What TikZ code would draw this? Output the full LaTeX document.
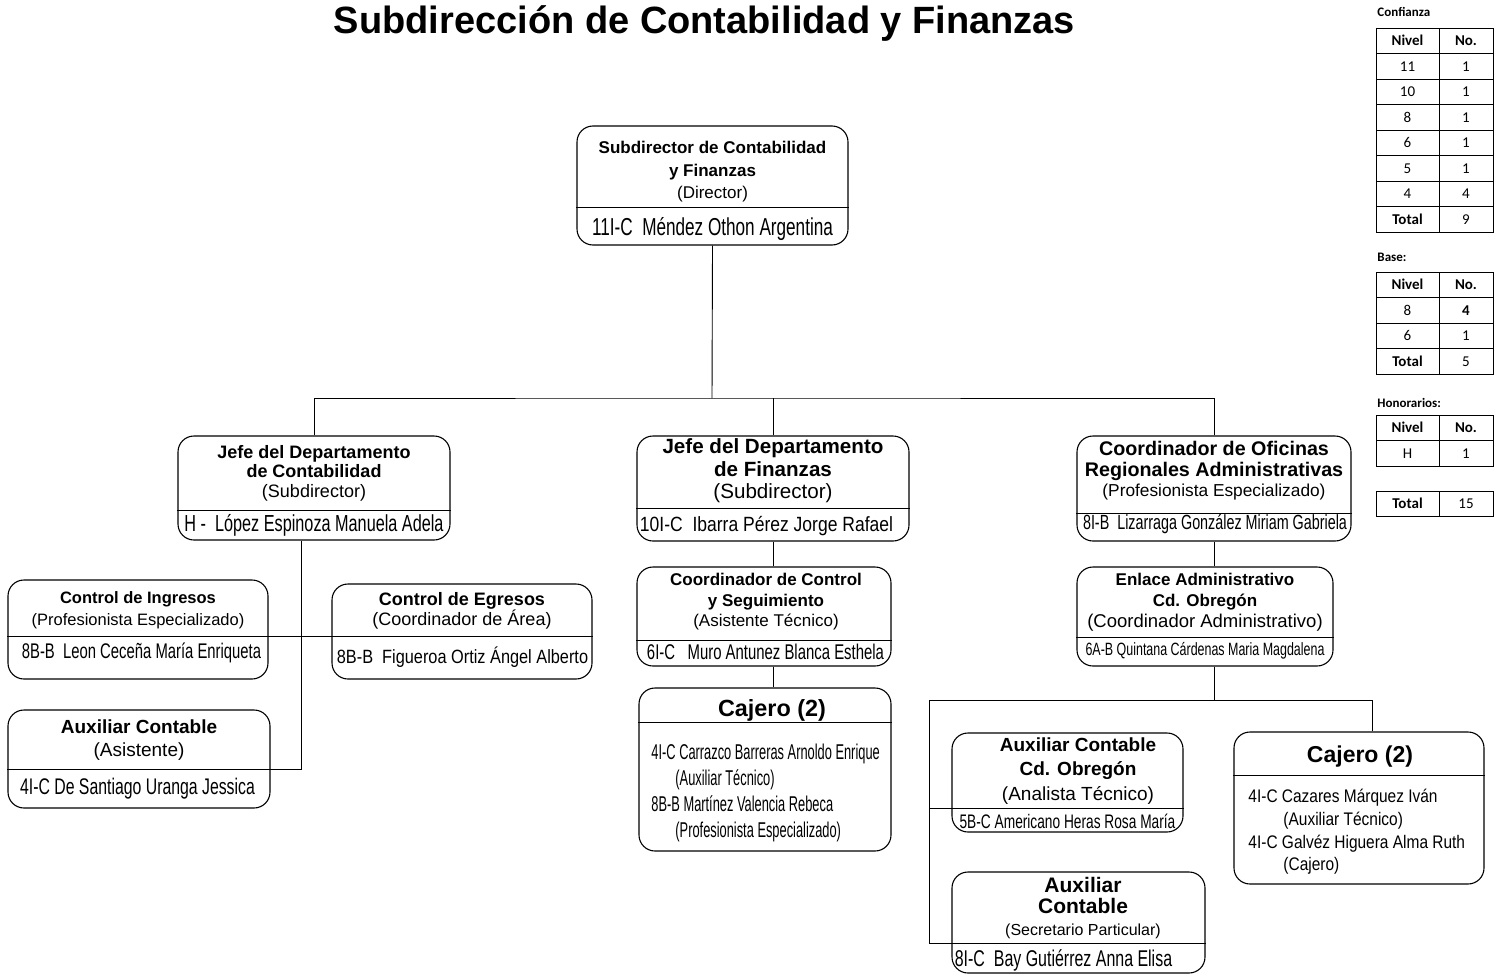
\documentclass[tikz,border=0pt]{standalone}
\usepackage{fontspec}
\setmainfont{Liberation Sans}
\newfontfamily\narrowfont[FakeStretch=0.7]{Liberation Sans}
\newfontfamily\namefont[FakeStretch=0.85]{Liberation Sans}
\newfontfamily\condfont[FakeStretch=0.6]{Liberation Sans}
\newfontfamily\tabfont{Carlito}
\usetikzlibrary{positioning,calc}

\newcommand{\setfs}[2]{\fontsize{#1}{#2}\selectfont}

\tikzset{
  box/.style={draw, rounded corners=16pt, inner sep=0pt, line width=1.1pt},
  txt/.style={inner sep=0pt, align=center},
  cell/.style={draw, inner sep=0pt, line width=0.9pt, minimum height=25.5pt, font=\tabfont\setfs{15}{15}},
  tlabel/.style={inner sep=0pt, anchor=west, font=\tabfont\bfseries\setfs{13}{13}},
}

\begin{document}
\begin{tikzpicture}[x=1pt, y=-1pt, line width=0.9pt]
\useasboundingbox (0,0) rectangle (1499,977);

% Title
\node[anchor=base, inner sep=0pt, font=\bfseries\setfs{38}{40}] (title) at (704.5,33) {Subdirección de Contabilidad y Finanzas};

% Director
\node[box, minimum width=271pt, minimum height=119pt] (dir) at (712.5,185.5) {};
\draw (dir.west |- 0,207) -- (dir.east |- 0,207);
\node[txt, font=\setfs{17}{22.5}] (dirT) at (712.5,172) {\textbf{Subdirector de Contabilidad}\\\textbf{y Finanzas}\\(Director)};
\node[txt, font=\narrowfont\setfs{24.5}{24.5}] (dirN) at (712.5,229) {11I-C\ \ Méndez Othon Argentina};

% Departamento de Contabilidad
\node[box, minimum width=272pt, minimum height=104pt] (jcont) at (314,488) {};
\draw (jcont.west |- 0,510) -- (jcont.east |- 0,510);
\node[txt, font=\setfs{18}{19.5}] (jcontT) at (314,473) {\textbf{Jefe del Departamento}\\\textbf{de Contabilidad}\\(Subdirector)};
\node[txt, font=\narrowfont\setfs{23.2}{23.2}] (jcontN) at (314,525) {H -\ \ López Espinoza Manuela Adela};

\node[box, minimum width=260pt, minimum height=99pt] (ing) at (138,629.5) {};
\node[txt, font=\setfs{16.5}{22}] (ingT) at (138,610) {\textbf{Control de Ingresos}\\(Profesionista Especializado)};
\node[txt, font=\narrowfont\setfs{21.2}{21.2}] (ingN) at (141.5,653) {8B-B\ \ Leon Ceceña María Enriqueta};

\node[box, minimum width=260pt, minimum height=95pt] (egr) at (462,631.5) {};
\node[txt, font=\setfs{18}{19}] (egrT) at (462,611) {\textbf{Control de Egresos}\\(Coordinador de Área)};
\node[txt, font=\namefont\setfs{19.2}{19.2}] (egrN) at (462.5,657) {8B-B\ \ Figueroa Ortiz Ángel Alberto};
\draw (ing.west |- 0,636) -- (egr.east |- 0,636);

\node[box, minimum width=262pt, minimum height=98pt] (auxc) at (139,759) {};
\node[txt, font=\setfs{19}{23}] (auxcT) at (139,740) {\textbf{Auxiliar Contable}\\(Asistente)};
\node[txt, font=\narrowfont\setfs{22.6}{22.6}] (auxcN) at (137.5,789) {4I-C De Santiago Uranga Jessica};

% Departamento de Finanzas
\node[box, minimum width=272pt, minimum height=105pt] (jfin) at (773,488.5) {};
\draw (jfin.west |- 0,508) -- (jfin.east |- 0,508);
\node[txt, font=\setfs{20.6}{22.5}] (jfinT) at (773,471) {\textbf{Jefe del Departamento}\\\textbf{de Finanzas}\\(Subdirector)};
\node[txt, font=\namefont\setfs{20.6}{20.6}] (jfinN) at (766.5,526) {10I-C\ \ Ibarra Pérez Jorge Rafael};

\node[box, minimum width=254pt, minimum height=99pt] (ctrl) at (764,616.5) {};
\draw (ctrl.west |- 0,640) -- (ctrl.east |- 0,640);
\node[txt, font=\setfs{17}{20.5}] (ctrlT) at (766,602) {\textbf{Coordinador de Control}\\\textbf{y Seguimiento}\\(Asistente Técnico)};
\node[txt, font=\narrowfont\setfs{21.3}{21.3}] (ctrlN) at (765.5,652) {6I-C\ \ \ Muro Antunez Blanca Esthela};

\node[box, minimum width=252pt, minimum height=163pt] (caj1) at (765,769.5) {};
\draw (caj1.west |- 0,722) -- (caj1.east |- 0,722);
\node[txt, font=\bfseries\setfs{23.4}{23.4}] (caj1T) at (772,710) {Cajero (2)};
\node[anchor=west, inner sep=0pt, align=left, font=\condfont\setfs{21.4}{26}] (caj1L) at (651,793) {4I-C Carrazco Barreras Arnoldo Enrique\\\hspace*{24pt}(Auxiliar Técnico)\\8B-B Martínez Valencia Rebeca\\\hspace*{24pt}(Profesionista Especializado)};

% Oficinas Regionales
\node[box, minimum width=274pt, minimum height=105pt] (coord) at (1214,488.5) {};
\draw (coord.west |- 0,513) -- (coord.east |- 0,513);
\node[txt, font=\setfs{19.7}{20.5}] (coordT) at (1214,471) {\textbf{Coordinador de Oficinas}\\\textbf{Regionales Administrativas}\\{\setfs{17.3}{20.5}(Profesionista Especializado)}};
\node[txt, font=\narrowfont\setfs{20.5}{20.5}] (coordN) at (1215,524) {8I-B\ \ Lizarraga González Miriam Gabriela};

\node[box, minimum width=256pt, minimum height=99pt] (enl) at (1205,616.5) {};
\draw (enl.west |- 0,637) -- (enl.east |- 0,637);
\node[txt, font=\setfs{17}{21}] (enlT) at (1205,602) {\textbf{Enlace Administrativo}\\\textbf{Cd. Obregón}\\{\setfs{18.5}{21}(Coordinador Administrativo)}};
\node[txt, font=\narrowfont\setfs{17.8}{17.8}] (enlN) at (1205,651) {6A-B Quintana Cárdenas Maria Magdalena};

\node[box, minimum width=231pt, minimum height=99pt] (auxo) at (1067.5,782.5) {};
\node[txt, font=\setfs{19}{24.5}] (auxoT) at (1078,771) {\textbf{Auxiliar Contable}\\\textbf{Cd. Obregón}\\(Analista Técnico)};
\node[txt, font=\narrowfont\setfs{19.6}{19.6}] (auxoN) at (1067.5,821) {5B-C Americano Heras Rosa María};

\node[box, minimum width=250pt, minimum height=152pt] (caj2) at (1359,808) {};
\draw (caj2.west |- 0,775) -- (caj2.east |- 0,775);
\node[txt, font=\bfseries\setfs{23}{23}] (caj2T) at (1360,757) {Cajero (2)};
\node[anchor=west, inner sep=0pt, align=left, font=\namefont\setfs{18.2}{22.7}] (caj2L) at (1248,832) {4I-C Cazares Márquez Iván\\\hspace*{35pt}(Auxiliar Técnico)\\4I-C Galvéz Higuera Alma Ruth\\\hspace*{35pt}(Cajero)};

\node[box, minimum width=253pt, minimum height=101pt] (auxs) at (1078.5,922.5) {};
\node[txt, font=\setfs{21}{21.5}] (auxsT) at (1083,908) {\textbf{Auxiliar}\\\textbf{Contable}\\{\setfs{16}{20}(Secretario Particular)}};
\node[txt, font=\narrowfont\setfs{22.8}{22.8}] (auxsN) at (1063.5,960) {8I-C\ \ Bay Gutiérrez Anna Elisa};

% Connectors
\coordinate (bus) at (712,398);
\draw (dir.south) -- (bus);
\draw (jcont.north) |- (bus) -| (coord.north);
\draw (jfin.north) -- (jfin.north |- bus);
\draw ([xshift=-13pt]jcont.south) |- (auxc.west |- 0,769);
\draw (jfin.south) -- (jfin.south |- ctrl.north);
\draw (jfin.south |- ctrl.south) -- (jfin.south |- caj1.north);
\draw (coord.south) -- (coord.south |- enl.north);
\coordinate (rbus) at (929,700);
\draw (coord.south |- enl.south) -- (coord.south |- rbus);
\draw (rbus) -| ([xshift=13pt]caj2.north);
\draw (rbus) |- (auxs.east |- 0,943);
\draw (rbus |- 0,808) -- (auxo.east |- 0,808);

% Tables
\node[tlabel] (cfL) at (1377,12) {Confianza};
\foreach \lv/\no [count=\i] in {\textbf{Nivel}/\textbf{No.},11/1,10/1,8/1,6/1,5/1,4/4,\textbf{Total}/9} {
  \node[cell, minimum width=63pt] (cf\i a) at (1407.5,15.25+25.5*\i) {\lv};
  \node[cell, minimum width=54pt] (cf\i b) at (1466,15.25+25.5*\i) {\no};
}
\node[tlabel] (bsL) at (1377,257) {Base:};
\foreach \lv/\no [count=\i] in {\textbf{Nivel}/\textbf{No.},8/\textbf{4},6/1,\textbf{Total}/5} {
  \node[cell, minimum width=63pt] (bs\i a) at (1407.5,259.25+25.5*\i) {\lv};
  \node[cell, minimum width=54pt] (bs\i b) at (1466,259.25+25.5*\i) {\no};
}
\node[tlabel] (hnL) at (1377,403) {Honorarios:};
\foreach \lv/\no [count=\i] in {\textbf{Nivel}/\textbf{No.},H/1} {
  \node[cell, minimum width=63pt] (hn\i a) at (1407.5,402.25+25.5*\i) {\lv};
  \node[cell, minimum width=54pt] (hn\i b) at (1466,402.25+25.5*\i) {\no};
}
\node[cell, minimum width=63pt] (tta) at (1407.5,503.75) {\textbf{Total}};
\node[cell, minimum width=54pt] (ttb) at (1466,503.75) {15};
\end{tikzpicture}
\end{document}
